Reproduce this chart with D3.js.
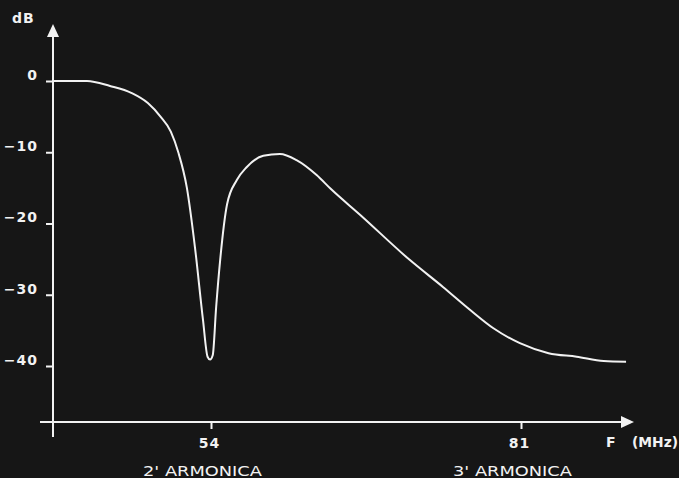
<!DOCTYPE html>
<html>
<head>
<meta charset="utf-8">
<script src="https://cdn.jsdelivr.net/npm/d3@7"></script>
<style>
  html, body { margin: 0; padding: 0; background: #161616; }
  svg { display: block; }
  text { font-family: "DejaVu Sans", sans-serif; fill: #f2f2f2; font-weight: bold; }
</style>
</head>
<body>
<svg width="679" height="478"></svg>
<script>
// frequency (MHz) and attenuation (dB)
var freq = [40.24, 43.2, 45.2, 47.1, 48.5, 49.6, 50.5, 51.15, 51.9, 52.6, 53.3, 53.7, 53.92,
  54.15, 54.45, 54.8, 55.4, 56.25, 57.1, 58.55, 60.0, 61.45, 63.2, 64.4, 67.0,
  71.3, 74.2, 76.55, 78.6, 80.9, 83.4, 85.85, 88.2, 90.15];
var dB = [0, 0, -0.7, -1.7, -3.1, -5.0, -7.1, -10.0, -15.0, -23.3, -33.5, -38.7, -39.1,
  -38.5, -31.7, -25.1, -17.3, -13.9, -12.1, -10.5, -10.25, -11.1, -13.2, -15.1, -18.8,
  -25.1, -28.9, -32.1, -34.7, -36.8, -38.2, -38.7, -39.3, -39.4];

var yTicks = [0, -10, -20, -30, -40];
var xTicks = [54, 81];
var harmonicLabels = ["2' ARMONICA", "3' ARMONICA"];

var svg = d3.select("svg");

var xScale = d3.scaleLinear().domain([54, 81]).range([211, 521]);
var yScale = d3.scaleLinear().domain([0, -40]).range([81, 366]);

var originX = 53;   // y axis position
var originY = 422;  // x axis position

// axis lines with arrows
var axes = svg.append("g").attr("stroke", "#f2f2f2").attr("stroke-width", 2);
axes.append("line").attr("x1", originX).attr("x2", originX).attr("y1", 34).attr("y2", 437);
axes.append("line").attr("x1", 40).attr("x2", 624).attr("y1", originY).attr("y2", originY);

svg.append("path")
  .attr("d", `M${originX},24 L${originX - 6},37 L${originX + 6},37 Z`)
  .attr("fill", "#f2f2f2");
svg.append("path")
  .attr("d", `M634,${originY} L621,${originY - 6} L621,${originY + 6} Z`)
  .attr("fill", "#f2f2f2");

// y axis ticks
var yAxis = svg.append("g")
  .attr("transform", `translate(${originX},0)`)
  .call(d3.axisLeft(yScale).tickValues(yTicks).tickSize(7).tickPadding(8)
    .tickFormat(function (d) { return d === 0 ? "0" : "\u2212" + Math.abs(d); }));
yAxis.select(".domain").remove();
yAxis.selectAll("line").attr("stroke", "#f2f2f2").attr("stroke-width", 2);
yAxis.selectAll("text")
  .attr("dy", "-0.12em")
  .attr("font-size", 14)
  .style("letter-spacing", "1px")
  .style("fill", "#f2f2f2");

// x axis ticks
var xAxis = svg.append("g")
  .attr("transform", `translate(0,${originY})`)
  .call(d3.axisBottom(xScale).tickValues(xTicks).tickSize(7).tickPadding(9));
xAxis.select(".domain").remove();
xAxis.selectAll("line").attr("stroke", "#f2f2f2").attr("stroke-width", 2);
xAxis.selectAll("text")
  .attr("dx", "-2px")
  .attr("font-size", 14)
  .style("letter-spacing", "1px")
  .style("fill", "#f2f2f2");

// axis titles
svg.append("text").attr("x", 12).attr("y", 23)
  .attr("font-size", 14).style("letter-spacing", "1px").text("dB");
svg.append("text").attr("x", 606).attr("y", 447)
  .attr("font-size", 14).text("F");
svg.append("text").attr("x", 632).attr("y", 447)
  .attr("textLength", 46).attr("lengthAdjust", "spacingAndGlyphs")
  .attr("font-size", 14).text("(MHz)");

// harmonic labels under the ticks
svg.selectAll(".harm")
  .data(harmonicLabels)
  .enter().append("text")
  .attr("class", "harm")
  .attr("x", function (d, i) { return xScale(xTicks[i]) - 68; })
  .attr("y", 476)
  .attr("textLength", 119)
  .attr("lengthAdjust", "spacingAndGlyphs")
  .attr("font-size", 14)
  .style("font-weight", "normal")
  .text(function (d) { return d; });

// response curve
var line = d3.line()
  .x(function (d, i) { return xScale(freq[i]); })
  .y(function (d) { return yScale(d); })
  .curve(d3.curveMonotoneX);

svg.append("path")
  .datum(dB)
  .attr("d", line)
  .attr("fill", "none")
  .attr("stroke", "#f2f2f2")
  .attr("stroke-width", 2);
</script>
</body>
</html>
